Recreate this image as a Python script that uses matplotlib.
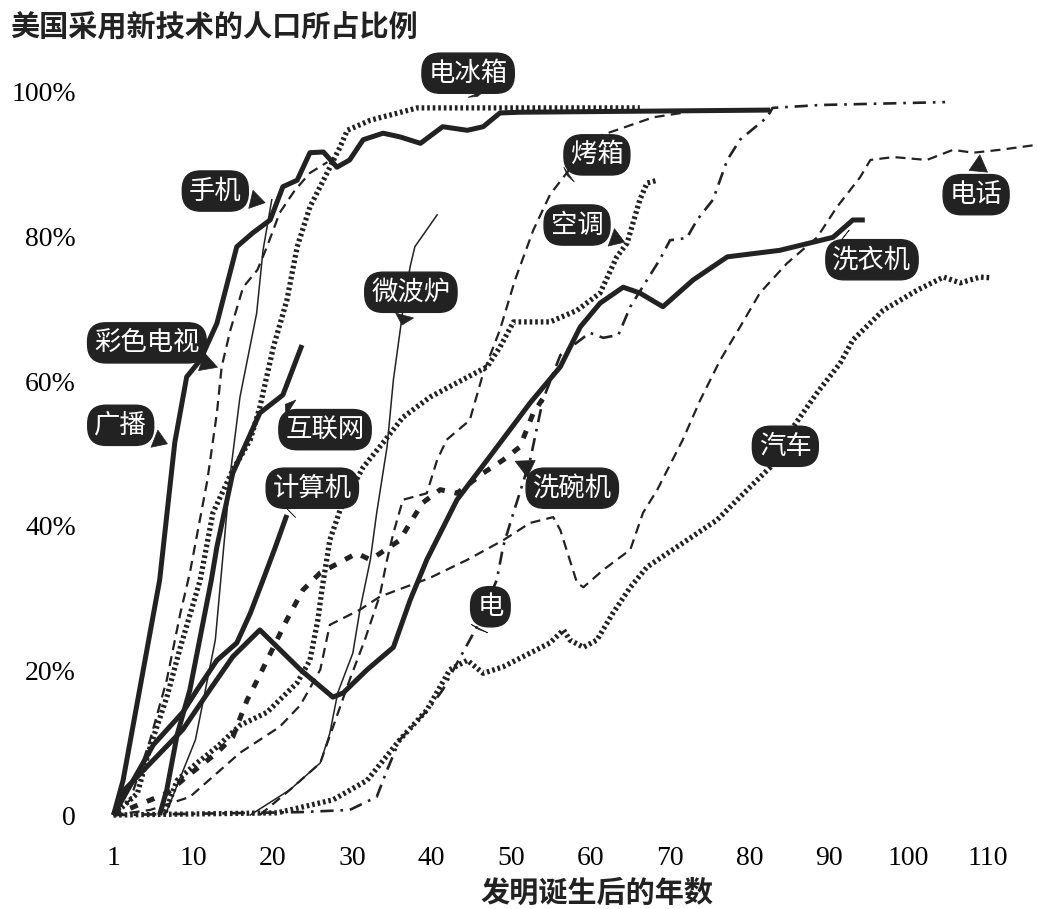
import matplotlib
matplotlib.use('Agg')
import matplotlib.pyplot as plt

plt.rcParams['font.family'] = ['Noto Sans CJK SC', 'DejaVu Sans']

ink = '#222222'

# 年数 / 百分比
x_radio = [0, 1.2, 5.8, 7.7, 9.2, 10.9, 13.0, 15.5, 17.5, 19.7, 21.3, 23.1, 24.7, 26.4, 28.1, 29.7,
           31.4, 33.9, 36.0, 38.6, 41.4, 44.5, 46.5, 48.6, 51.1, 82.6]
y_radio = [0, 4.8, 32.5, 51.5, 60.6, 62.9, 68.0, 78.6, 80.5, 82.3, 86.9, 87.8, 91.6, 91.7, 89.6, 90.6,
           93.4, 94.3, 93.8, 92.9, 95.2, 94.7, 95.2, 97.1, 97.2, 97.5]

x_colortv = [0, 2.1, 4.6, 6.7, 8.4, 9.6, 11.8, 13.0, 13.6, 14.7, 16.3, 18.1, 19.3, 20.9, 22.8, 24.7, 26.9]
y_colortv = [0, 2.1, 10.4, 18.7, 27.9, 33.5, 46.3, 55.6, 62.0, 67.1, 73.0, 75.4, 78.6, 83.3, 86.4, 88.8, 90.3]

x_cell = [6.5, 10.3, 12.8, 14.7, 15.9, 18.0, 18.8, 19.9]
y_cell = [0, 10.4, 24.2, 47.3, 57.8, 69.4, 78.1, 85.1]

x_internet = [5.8, 6.7, 8.0, 9.6, 12.3, 13.0, 15.0, 18.4, 21.3, 23.7]
y_internet = [0, 3.5, 11.1, 17.3, 32.5, 37.1, 47.3, 55.6, 58.1, 65.0]

x_computer = [0, 5.0, 8.7, 10.5, 13.0, 15.5, 17.2, 18.8, 20.3, 21.8]
y_computer = [0, 9.7, 14.2, 17.3, 21.4, 23.8, 27.9, 32.5, 36.9, 41.5]

x_fridge = [0, 3.0, 4.6, 6.7, 8.4, 10.9, 12.5, 15.0, 17.2, 18.4, 20.1, 21.8, 23.1, 24.7, 26.4,
            28.5, 29.4, 32.3, 38.2, 51.1, 66.2]
y_fridge = [0, 3.0, 9.4, 16.3, 23.2, 32.5, 41.8, 47.7, 51.9, 56.4, 64.7, 71.2, 78.6, 84.1, 87.8,
            92.4, 94.7, 96.1, 97.8, 97.8, 97.8]

x_microwave = [17.2, 22.2, 26.0, 27.2, 28.2, 30.1, 31.0, 32.3, 33.1, 34.4, 35.2, 36.4, 37.3, 37.9, 40.7]
y_microwave = [0, 3.5, 7.2, 11.3, 16.9, 22.4, 28.4, 35.3, 41.8, 50.9, 60.2, 69.8, 75.8, 78.6, 83.0]

x_washer = [0, 1.4, 8.7, 12.1, 15.0, 18.4, 23.5, 27.6, 28.9, 31.9, 35.2, 37.3, 39.4, 43.2, 47.0,
            52.4, 56.2, 58.7, 61.2, 64.1, 66.2, 69.1, 72.9, 77.2, 83.8, 90.5, 93.0, 94.5]
y_washer = [0, 3.5, 11.8, 17.3, 21.9, 25.6, 20.1, 16.3, 16.9, 20.1, 23.2, 29.7, 35.3, 43.6, 49.1,
            57.0, 62.0, 67.5, 70.8, 73.0, 72.2, 70.3, 74.0, 77.2, 78.1, 79.9, 82.3, 82.3]

x_aircon = [6.5, 8.0, 10.5, 13.0, 15.9, 19.3, 23.1, 24.7, 25.7, 26.2, 27.2, 28.5, 31.4, 33.9, 36.4,
            39.8, 47.0, 48.6, 50.3, 54.9, 58.3, 61.2, 63.3, 64.6, 66.2, 67.1, 68.4]
y_aircon = [0.4, 4.8, 7.2, 9.4, 12.4, 14.2, 18.3, 21.4, 27.0, 31.1, 38.0, 42.2, 48.1, 51.5, 55.0,
            57.8, 62.0, 64.7, 68.2, 68.2, 69.8, 72.2, 77.2, 79.1, 85.1, 87.4, 87.8]

x_car = [0, 20.6, 27.6, 31.9, 36.0, 39.4, 42.3, 44.5, 46.5, 49.0, 52.4, 54.9, 56.6, 57.4, 59.1, 60.8,
         62.8, 65.0, 67.1, 70.9, 75.9, 80.1, 82.6, 85.5, 88.5, 91.4, 93.0, 96.8, 101.1, 104.4, 106.5,
         109.0, 110.3]
y_car = [0, 0.3, 2.1, 4.8, 10.4, 14.5, 20.1, 21.4, 19.6, 20.5, 22.4, 23.8, 25.6, 24.2, 23.2, 24.2,
         27.9, 31.5, 34.3, 37.1, 40.8, 45.4, 48.1, 53.7, 58.4, 62.5, 65.7, 69.8, 72.6, 74.4, 73.6,
         74.4, 74.3]

x_oven = [18.4, 22.2, 26.0, 27.9, 29.7, 31.6, 33.5, 34.4, 35.2, 36.4, 39.4, 40.7, 41.9, 44.8, 46.5,
          48.6, 50.5, 52.8, 54.9, 57.0, 60.8, 67.9, 73.8]
y_oven = [0, 3.5, 7.2, 13.1, 18.7, 24.2, 30.4, 35.3, 39.0, 43.6, 44.5, 49.1, 51.9, 54.6, 61.1,
          67.1, 74.0, 80.9, 85.8, 88.8, 93.8, 96.5, 97.5]

x_phone = [0, 4.6, 9.6, 15.9, 20.9, 23.5, 26.0, 27.2, 31.0, 33.5, 39.8, 44.5, 49.0, 52.4, 55.3, 56.2,
           58.3, 59.1, 61.6, 65.0, 66.6, 68.4, 71.6, 73.8, 76.3, 78.8, 81.3, 84.7, 88.5, 91.0, 93.9,
           95.2, 98.1, 102.3, 105.6, 108.1, 111.5, 116.2]
y_phone = [0, 0.7, 2.5, 8.6, 12.2, 15.2, 20.1, 26.3, 28.4, 30.2, 32.8, 35.3, 38.0, 40.4, 41.2, 39.4,
           32.1, 31.5, 33.9, 36.7, 41.8, 45.0, 51.9, 57.4, 62.9, 67.5, 72.2, 76.3, 79.9, 84.1, 88.2,
           90.6, 91.0, 90.6, 92.0, 91.6, 92.0, 92.7]

x_power = [0, 23.5, 29.7, 33.1, 34.4, 36.0, 39.8, 41.4, 43.2, 45.7, 48.2, 49.0, 49.9, 52.4, 54.0,
           56.2, 59.9, 61.6, 63.5, 65.0, 67.1, 68.7, 70.0, 72.1, 73.4, 75.4, 77.2, 78.8, 82.2, 82.9,
           88.9, 104.6]
y_power = [0, 0.4, 0.7, 2.5, 6.2, 10.4, 14.9, 17.3, 21.0, 26.0, 32.5, 37.1, 40.4, 49.1, 57.4,
           63.6, 66.7, 66.0, 66.4, 70.3, 74.0, 76.8, 79.5, 79.8, 82.3, 85.1, 90.6, 93.4, 96.5, 97.8,
           98.2, 98.6]

x_dish = [0, 6.7, 9.2, 13.0, 15.0, 16.8, 18.1, 19.3, 21.8, 23.8, 26.0, 30.6, 32.3, 36.0, 37.3, 38.9,
          41.1, 43.2, 46.5, 49.0, 51.1, 52.8, 54.3]
y_dish = [0, 3.0, 5.3, 8.6, 10.8, 15.9, 18.7, 21.4, 27.0, 31.1, 33.5, 36.2, 35.3, 38.0, 40.4, 43.2,
          45.0, 44.5, 47.3, 49.1, 50.9, 55.6, 58.1]

x_ticks = [0, 10, 20, 30, 40, 50, 60, 70, 80, 90, 100, 110]
x_ticklabels = ['1', '10', '20', '30', '40', '50', '60', '70', '80', '90', '100', '110']
y_ticks = [0, 20, 40, 60, 80, 100]
y_ticklabels = ['0', '20%', '40%', '60%', '80%', '100%']

fig = plt.figure(figsize=(10.37, 9.09), dpi=100)
ax = fig.add_axes([0.1095, 0.1034, 0.8893, 0.7954])

thick = dict(color=ink, lw=3.6, solid_joinstyle='round', solid_capstyle='butt')
thin = dict(color=ink, lw=1.1)
dashed = dict(color=ink, lw=1.6, linestyle=(0, (4.5, 2.8)))
dotted = dict(color=ink, lw=3.8, linestyle=(0, (0.5, 0.55)))
dashdot = dict(color=ink, lw=1.9, linestyle=(0, (5, 2.6, 1, 2.6)))
bigdash = dict(color=ink, lw=3.6, linestyle=(0, (1.6, 2.0)))

ax.plot(x_car, y_car, **dotted)
ax.plot(x_aircon, y_aircon, **dotted)
ax.plot(x_fridge, y_fridge, **dotted)
ax.plot(x_phone, y_phone, **dashed)
ax.plot(x_oven, y_oven, **dashed)
ax.plot(x_colortv, y_colortv, **dashed)
ax.plot(x_power, y_power, **dashdot)
ax.plot(x_dish, y_dish, **bigdash)
ax.plot(x_microwave, y_microwave, **thin)
ax.plot(x_cell, y_cell, **thin)
ax.plot(x_washer, y_washer, **thick)
ax.plot(x_computer, y_computer, **thick)
ax.plot(x_internet, y_internet, **thick)
ax.plot(x_radio, y_radio, **thick)

for ln in ax.lines:
    ln.set_clip_on(False)

ax.set_xlim(0, 116)
ax.set_ylim(0, 100)
for s in ax.spines.values():
    s.set_visible(False)
ax.set_xticks(x_ticks)
ax.set_xticklabels(x_ticklabels, family='Liberation Serif', fontsize=20)
ax.set_yticks(y_ticks)
ax.set_yticklabels(y_ticklabels, family='Liberation Serif', fontsize=20)
ax.tick_params(axis='both', length=0)
ax.tick_params(axis='x', pad=22)
ax.tick_params(axis='y', pad=27)

# 标签: (文字, 框中心, 指向点)
labels = [
    ('电冰箱', (44.6, 102.6), (45.8, 99.4)),
    ('手机', (12.8, 86.3), (19.4, 84.6)),
    ('烤箱', (60.8, 91.3), (56.8, 88.2)),
    ('空调', (58.3, 81.6), (64.6, 79.1)),
    ('电话', (108.5, 85.8), (109.0, 91.7)),
    ('微波炉', (37.4, 72.3), (36.2, 67.4)),
    ('彩色电视', (4.2, 65.3), (13.4, 61.8)),
    ('广播', (0.9, 53.9), (7.1, 51.2)),
    ('互联网', (26.6, 53.3), (21.3, 57.0)),
    ('计算机', (25.0, 45.2), (21.8, 41.8)),
    ('洗碗机', (57.7, 45.2), (50.2, 49.1)),
    ('电', (47.4, 28.8), (45.8, 25.3)),
    ('洗衣机', (95.4, 76.8), (91.8, 79.9)),
    ('汽车', (84.5, 51.0), (85.7, 53.5)),
]
for txt, pos, tip in labels:
    ax.annotate(txt, xy=tip, xytext=pos, ha='center', va='center',
                fontsize=19, color='white', annotation_clip=False,
                bbox=dict(boxstyle='round,pad=0.25,rounding_size=0.7', fc=ink, ec=ink),
                arrowprops=dict(arrowstyle='wedge,tail_width=0.7,shrink_factor=0.5',
                                fc=ink, ec=ink, lw=0.5))

fig.text(10 / 1037, 1 - 27 / 909, '美国采用新技术的人口所占比例', ha='left', va='center',
         fontsize=21, fontweight='bold', color=ink)
fig.text(597 / 1037, 1 - 893 / 909, '发明诞生后的年数', ha='center', va='center',
         fontsize=21, fontweight='bold', color=ink)

fig.savefig('out.png', dpi=100)
